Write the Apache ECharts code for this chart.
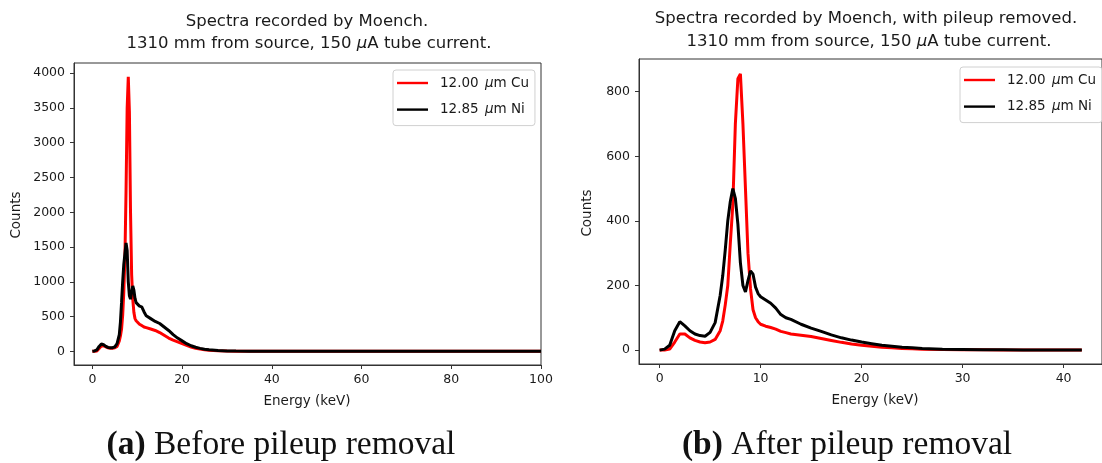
<!DOCTYPE html>
<html>
<head>
<meta charset="utf-8">
<script src="https://cdn.jsdelivr.net/npm/echarts@6/dist/echarts.min.js"></script>
<style>html,body{margin:0;padding:0;background:#fff;}#c{width:1102px;height:463px;}</style>
</head>
<body>
<div id="c"></div>
<script>
// ---- Data ----
// (a) Before pileup removal
const energyA = [0,0.5,1,1.5,2,2.5,3,3.5,4,4.5,5,5.5,6,6.25,6.5,6.75,7,7.25,7.5,7.75,8,8.25,8.5,8.75,9,9.25,9.5,9.75,10,10.5,11,11.5,12,13,14,15,16,17,18,19,20,21,22,23,24,25,26,28,30,32,35,40,50,60,70,80,90,100];
const cuA = [0,0,5,40,75,80,65,50,45,45,50,70,150,220,320,520,850,1350,2300,3500,3950,3450,2000,1100,750,560,470,440,420,390,370,350,340,320,300,270,230,190,160,135,110,85,62,45,32,22,15,7,3,1,0,0,0,0,0,0,0,0];
const niA = [0,5,20,70,105,95,70,55,50,52,65,110,240,420,700,1000,1250,1400,1560,1450,1000,800,750,850,940,880,760,700,680,650,640,570,510,470,430,400,350,300,240,190,150,110,80,58,42,30,22,12,6,3,1,0,0,0,0,0,0,0];
// (b) After pileup removal
const energyB = [0,0.5,1,1.5,2,2.5,3,3.5,4,4.5,5,5.5,6,6.25,6.5,6.75,7,7.25,7.5,7.75,8,8.25,8.5,8.75,9,9.25,9.5,9.75,10,10.5,11,11.5,12,12.5,13,14,15,16,17,18,19,20,21,22,23,24,25,26,28,30,32,34,36,38,40,41.8];
const cuB = [0,0,3,25,50,50,38,30,25,23,25,33,60,90,140,200,330,450,700,840,855,700,500,300,190,125,100,88,80,74,70,65,58,54,50,46,42,36,30,24,19,15,12,9,7,5,4,3,2,1,1,0.5,0,0,0,0];
const niB = [0,3,15,60,88,75,60,50,45,43,55,85,170,230,310,400,460,500,470,390,270,200,180,215,245,235,195,175,165,155,145,130,110,100,95,80,68,58,47,38,31,25,20,15,12,9,7,5,3,2,1,1,0.5,0,0,0];
// Tick labels
const xTicksA = [0,20,40,60,80,100];
const yTicksA = [0,500,1000,1500,2000,2500,3000,3500,4000];
const xTicksB = [0,10,20,30,40];
const yTicksB = [0,200,400,600,800];
const seriesNames = ['12.00 μm Cu', '12.85 μm Ni'];

// ---- Chart ----
const FONT = 'DejaVu Sans';
const TXT = '#1a1a1a';
const chart = echarts.init(document.getElementById('c'), null, {renderer: 'canvas'});
const pairs = (xs, ys) => xs.map((x, i) => [x, ys[i]]);

function xAxis(gi, min, max, ticks) {
  return {
    type: 'value', gridIndex: gi, min: min, max: max,
    axisLine: {show: true, onZero: false, lineStyle: {color: '#333', width: 1}},
    axisTick: {show: true, length: 4, customValues: ticks, lineStyle: {color: '#333'}},
    axisLabel: {customValues: ticks, margin: 8, fontFamily: FONT, fontSize: 12.5, color: TXT, formatter: v => String(v)},
    splitLine: {show: false}
  };
}
function yAxis(gi, min, max, ticks) {
  return {
    type: 'value', gridIndex: gi, min: min, max: max,
    axisLine: {show: true, onZero: false, lineStyle: {color: '#333', width: 1}},
    axisTick: {show: true, length: 4, customValues: ticks, lineStyle: {color: '#333'}},
    axisLabel: {customValues: ticks, margin: 9, fontFamily: FONT, fontSize: 12.5, color: TXT, formatter: v => String(v)},
    splitLine: {show: false}
  };
}
function line(name, data, color, gi) {
  return {
    type: 'line', name: name, data: data, xAxisIndex: gi, yAxisIndex: gi,
    symbol: 'none', showSymbol: false, smooth: false, clip: true,
    lineStyle: {color: color, width: 3}, itemStyle: {color: color},
    emphasis: {disabled: true}
  };
}
function legend(left, top) {
  return {
    orient: 'vertical', left: left, top: top,
    data: seriesNames.map(n => ({name: n, icon: 'rect'})),
    itemWidth: 31, itemHeight: 2.4, itemGap: 12.6,
    padding: [6, 6, 9, 4],
    borderColor: '#d0d0d0', borderWidth: 1, borderRadius: 3,
    backgroundColor: 'rgba(255,255,255,0.85)',
    formatter: n => n.replace('μ', '{mu|μ}'),
    textStyle: {fontFamily: FONT, fontSize: 13.5, lineHeight: 14, color: TXT, padding: [0, 0, 0, 7],
      rich: {mu: {fontFamily: FONT, fontSize: 13.5, lineHeight: 14, fontStyle: 'italic', color: TXT, padding: [0, 0, 0, 2]}}}
  };
}
function txt(x, y, text, size, extra) {
  return Object.assign({
    type: 'text', x: x, y: y, silent: true,
    style: Object.assign({
      text: text, fontFamily: FONT, fontSize: size, fill: TXT,
      align: 'center', verticalAlign: 'middle',
      rich: {mu: {fontFamily: FONT, fontSize: size, fontStyle: 'italic', fill: TXT}}
    }, extra || {})
  });
}
function caption(x, y, label, text) {
  return {
    type: 'text', x: x, y: y, silent: true,
    style: {
      text: '{b|' + label + '} ' + text,
      fontFamily: 'Liberation Serif', fontSize: 33.5, fill: '#111',
      align: 'center', verticalAlign: 'middle',
      rich: {b: {fontFamily: 'Liberation Serif', fontSize: 33.5, fontWeight: 'bold', fill: '#111'}}
    }
  };
}

const option = {
  animation: false,
  backgroundColor: '#ffffff',
  grid: [
    {left: 74, top: 63, width: 467, height: 302, show: true, borderColor: '#333', borderWidth: 1, containLabel: false},
    {left: 639, top: 59, width: 472, height: 305, show: true, borderColor: '#333', borderWidth: 1, containLabel: false}
  ],
  xAxis: [xAxis(0, -4.1, 100, xTicksA), xAxis(1, -2.04, 43.8, xTicksB)],
  yAxis: [yAxis(0, -197, 4147, yTicksA), yAxis(1, -43, 901, yTicksB)],
  legend: [legend(393, 70), legend(960, 67)],
  series: [
    line(seriesNames[0], pairs(energyA, cuA), '#ff0000', 0),
    line(seriesNames[1], pairs(energyA, niA), '#000000', 0),
    line(seriesNames[0], pairs(energyB, cuB), '#ff0000', 1),
    line(seriesNames[1], pairs(energyB, niB), '#000000', 1)
  ],
  graphic: [
    txt(307, 22, 'Spectra recorded by Moench.', 16.5),
    txt(309, 44, '1310 mm from source, 150 {mu|μ}A tube current.', 16.5),
    txt(866, 19, 'Spectra recorded by Moench, with pileup removed.', 16.5),
    txt(869, 42, '1310 mm from source, 150 {mu|μ}A tube current.', 16.5),
    txt(307, 401, 'Energy (keV)', 13.5),
    txt(875, 400, 'Energy (keV)', 13.5),
    Object.assign(txt(16, 215, 'Counts', 13.5), {rotation: Math.PI / 2}),
    Object.assign(txt(587, 213, 'Counts', 13.5), {rotation: Math.PI / 2}),
    caption(281, 445, '(a)', 'Before pileup removal'),
    caption(847, 445, '(b)', 'After pileup removal')
  ]
};
chart.setOption(option);
</script>
</body>
</html>
